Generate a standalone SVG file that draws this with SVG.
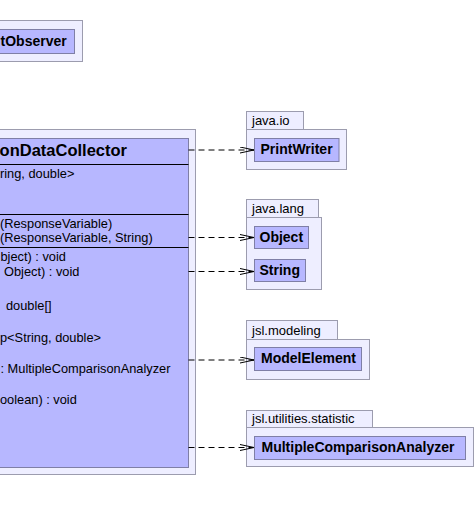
<svg xmlns="http://www.w3.org/2000/svg" width="476" height="513" viewBox="0 0 476 513">
<defs>
<style>
.pkg{fill:#eeeeff;stroke:#9c9cae;stroke-width:1}
.cls{fill:#b7b7ff;stroke:#7f7fa6;stroke-width:1}
.sep{stroke:#000;stroke-width:1}
.name{font-family:"Liberation Sans",Arial,sans-serif;font-weight:bold;font-size:14px;fill:#000}
.title{font-family:"Liberation Sans",Arial,sans-serif;font-weight:bold;font-size:16.5px;fill:#000}
.mem{font-family:"Liberation Sans",Arial,sans-serif;font-size:12.8px;fill:#000}
.plab{font-family:"Liberation Sans",Arial,sans-serif;font-size:13px;fill:#000}
.dep{fill:none;stroke:#000;stroke-width:1;stroke-dasharray:6,4}
</style>
<marker id="open" viewBox="0 0 14 7" refX="14" refY="3.5" markerWidth="14" markerHeight="7" markerUnits="userSpaceOnUse" orient="auto">
<path d="M0,0.5 L14,3.5 L0,6.5" fill="none" stroke="#000" stroke-width="1" stroke-dasharray="none"/>
</marker>
</defs>
<rect width="476" height="513" fill="#ffffff"/>

<g id="pkg-observer">
<rect class="pkg" x="-10.5" y="20.5" width="93" height="41"/>
<g id="node-observer">
<rect class="cls" x="-10.5" y="29.5" width="85" height="24"/>
<text class="name" x="66.7" y="45.5" text-anchor="end">tObserver</text>
</g>
</g>

<g id="pkg-main">
<rect class="pkg" x="-10.5" y="129.5" width="206" height="345"/>
<g id="node-collector">
<rect class="cls" x="-10.5" y="138.5" width="199" height="329"/>
<text class="title" x="127" y="156" text-anchor="end">onDataCollector</text>
<line class="sep" x1="-10.5" y1="164.5" x2="188.5" y2="164.5"/>
<text class="mem" x="0" y="177.5">ring, double&gt;</text>
<line class="sep" x1="-10.5" y1="214.5" x2="188.5" y2="214.5"/>
<text class="mem" x="0" y="227.5">(ResponseVariable)</text>
<text class="mem" x="0" y="242">(ResponseVariable, String)</text>
<line class="sep" x1="-10.5" y1="247.5" x2="188.5" y2="247.5"/>
<text class="mem" x="0.5" y="260.5">bject) : void</text>
<text class="mem" x="4" y="276">Object) : void</text>
<text class="mem" x="6" y="310">double[]</text>
<text class="mem" x="0" y="341.5">p&lt;String, double&gt;</text>
<text class="mem" x="0.5" y="372.5">: MultipleComparisonAnalyzer</text>
<text class="mem" x="0" y="404">oolean) : void</text>
</g>
</g>

<g id="pkg-java-io">
<rect class="pkg" x="246.5" y="111.5" width="57" height="18"/>
<rect class="pkg" x="246.5" y="129.5" width="100" height="40"/>
<text class="plab" x="252" y="125">java.io</text>
<g id="node-printwriter">
<rect class="cls" x="254.5" y="138.5" width="84.5" height="23"/>
<text class="name" x="260.5" y="153.5">PrintWriter</text>
</g>
</g>

<g id="pkg-java-lang">
<rect class="pkg" x="246.5" y="199.5" width="72" height="18"/>
<rect class="pkg" x="246.5" y="217.5" width="75" height="72"/>
<text class="plab" x="252" y="212.5">java.lang</text>
<g id="node-object">
<rect class="cls" x="254.5" y="226.5" width="54" height="22"/>
<text class="name" x="259.5" y="241.7">Object</text>
</g>
<g id="node-string">
<rect class="cls" x="254.5" y="259.5" width="51" height="22"/>
<text class="name" x="259.5" y="275">String</text>
</g>
</g>

<g id="pkg-jsl-modeling">
<rect class="pkg" x="246.5" y="320.5" width="91" height="19"/>
<rect class="pkg" x="246.5" y="339.5" width="123" height="40"/>
<text class="plab" x="252" y="335">jsl.modeling</text>
<g id="node-modelelement">
<rect class="cls" x="254.5" y="347.5" width="107" height="23"/>
<text class="name" x="261" y="362.5">ModelElement</text>
</g>
</g>

<g id="pkg-jsl-statistic">
<rect class="pkg" x="246.5" y="410.5" width="126" height="17"/>
<rect class="pkg" x="246.5" y="427.5" width="227" height="39"/>
<text class="plab" x="252" y="422.7">jsl.utilities.statistic</text>
<g id="node-mca">
<rect class="cls" x="254.5" y="436.5" width="211" height="23"/>
<text class="name" x="261.5" y="451.5">MultipleComparisonAnalyzer</text>
</g>
</g>

<g id="connectors">
<path class="dep" d="M188.5,150 H254" marker-end="url(#open)"/>
<path class="dep" d="M188.5,237.5 H254" marker-end="url(#open)"/>
<path class="dep" d="M188.5,271.5 H254" marker-end="url(#open)"/>
<path class="dep" d="M188.5,360 H254" marker-end="url(#open)"/>
<path class="dep" d="M188.5,447.5 H254" marker-end="url(#open)"/>
</g>
</svg>
